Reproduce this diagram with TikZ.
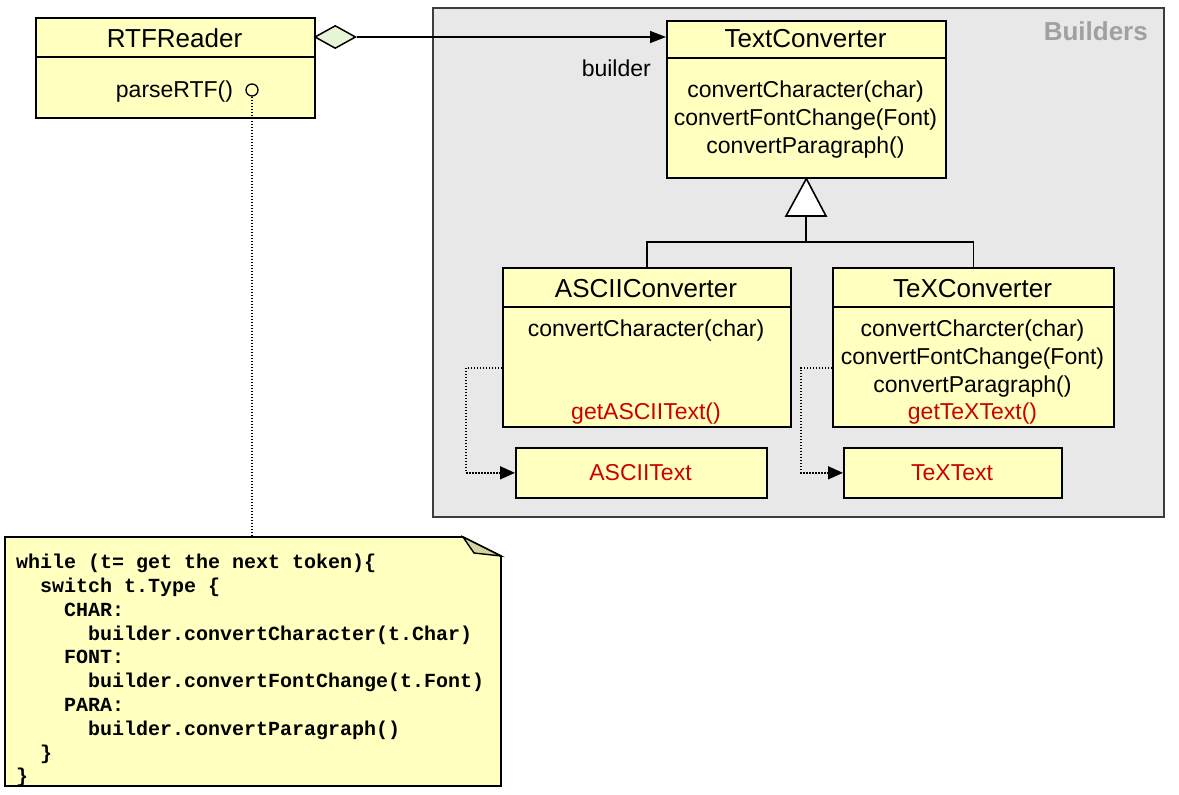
\documentclass[tikz,border=0pt]{standalone}
\usepackage{fontspec}
\setmainfont{Liberation Sans}
\setmonofont{Liberation Mono}
\usetikzlibrary{arrows.meta,shapes.geometric}
\definecolor{classfill}{RGB}{255,255,192}
\definecolor{notefold}{RGB}{212,212,160}
\definecolor{aggfill}{RGB}{230,245,214}
\definecolor{pkgfill}{RGB}{232,232,232}
\definecolor{pkgline}{RGB}{60,60,60}
\definecolor{pkglabel}{RGB}{160,160,160}
\definecolor{opred}{RGB}{204,0,0}
\begin{document}
\begin{tikzpicture}[x=1pt,y=-1pt,
  box/.style={draw=black, fill=classfill, line width=1.7pt, inner sep=0, anchor=north west},
  divider/.style={line width=1.7pt},
  title/.style={font=\fontsize{26}{30}\selectfont, inner sep=0, anchor=base},
  meth/.style={font=\fontsize{23}{28}\selectfont, inner sep=0, anchor=base},
  redop/.style={text=opred},
  solidhead/.style={-{Triangle[length=16pt,width=12pt]}},
  dotlink/.style={line width=1.6pt, dash pattern=on 1.5pt off 1.5pt, -{Triangle[length=15pt,width=13pt]}},
]
\useasboundingbox (0,0) rectangle (1179,795);

% package frame
\node[draw=pkgline, fill=pkgfill, line width=1.6pt, inner sep=0, anchor=north west,
      minimum width=731, minimum height=509] (builders) at (432,7) {};
\node[font=\bfseries\fontsize{26}{30}\selectfont, text=pkglabel, inner sep=0, anchor=base east]
      (builderslabel) at (1148,40) {Builders};

% RTFReader
\node[box, minimum width=279, minimum height=100] (rtf) at (35,17) {};
\draw[divider] (35,57) -- (314,57);
\node[title] (rtfname) at (174.5,47) {RTFReader};
\node[meth] (parse) at (174.5,97) {parseRTF()};
\node[circle, draw, line width=1.3pt, fill=classfill, minimum size=12, inner sep=0] (port) at (252,90) {};

% TextConverter
\node[box, minimum width=279, minimum height=157] (tc) at (666,20) {};
\draw[divider] (666,58) -- (945,58);
\node[title] (tcname) at (805.5,47) {TextConverter};
\node[meth] (tc1) at (805.5,97) {convertCharacter(char)};
\node[meth] (tc2) at (805.5,125) {convertFontChange(Font)};
\node[meth] (tc3) at (805.5,153) {convertParagraph()};

% aggregation RTFReader -> TextConverter
\node[diamond, draw, fill=aggfill, line width=1.5pt, minimum width=41, minimum height=23, inner sep=0, anchor=west] (agg) at (314,37) {};
\draw[solidhead, line width=1.5pt] (agg.east) -- (agg.east -| tc.west);
\node[meth, anchor=base east] (role) at (651,76) {builder};

% ASCIIConverter
\node[box, minimum width=288, minimum height=159] (ac) at (502,267) {};
\draw[divider] (502,307) -- (790,307);
\node[title] (acname) at (646,297) {ASCIIConverter};
\node[meth] (ac1) at (646,336) {convertCharacter(char)};
\node[meth, redop] (ac2) at (646,419) {getASCIIText()};

% TeXConverter
\node[box, minimum width=281, minimum height=159] (xc) at (832,267) {};
\draw[divider] (832,307) -- (1113,307);
\node[title] (xcname) at (972.5,297) {TeXConverter};
\node[meth] (xc1) at (972.5,336) {convertCharcter(char)};
\node[meth] (xc2) at (972.5,364) {convertFontChange(Font)};
\node[meth] (xc3) at (972.5,392) {convertParagraph()};
\node[meth, redop] (xc4) at (972.5,419) {getTeXText()};

% products
\node[box, minimum width=251, minimum height=50] (at) at (515,447) {};
\node[meth, redop] (atname) at (640.5,480) {ASCIIText};
\node[box, minimum width=218, minimum height=50] (xt) at (843,447) {};
\node[meth, redop] (xtname) at (952,480) {TeXText};

% generalization
\coordinate (gbase) at (806,216);
\coordinate (gjoin) at (806,242);
\draw[line width=1.6pt] (ac.north) |- (gjoin) -| (xc.north);
\draw[line width=1.6pt] (gbase) -- (gjoin);
\draw[line width=1.6pt, fill=white] (tc.south) -- ([xshift=20pt]gbase) -- ([xshift=-20pt]gbase) -- cycle;

% creates
\draw[dotlink] ([yshift=-20.5pt]ac.west) -- ++(-36,0) |- (at.west);
\draw[dotlink] ([yshift=-20.5pt]xc.west) -- ++(-31,0) |- (xt.west);

% note with folded corner
\coordinate (notetop) at (252,537);
\draw[line width=1.7pt, fill=classfill] (5,537) -- (463,537) -- (501,556) -- (501,786) -- (5,786) -- cycle;
\draw[line width=1.4pt, fill=notefold] (463,537) -- (474,553) -- (501,556) -- cycle;
\draw[line width=1.6pt, dash pattern=on 1.5pt off 1.5pt] (port.south) -- (notetop);
\node[font=\ttfamily\bfseries\fontsize{20}{23.8}\selectfont, align=left, inner sep=0, anchor=north west] (code) at (16,554)
{while (t= get the next token)\{\\
\hspace*{1.2em}switch t.Type \{\\
\hspace*{2.4em}CHAR:\\
\hspace*{3.6em}builder.convertCharacter(t.Char)\\
\hspace*{2.4em}FONT:\\
\hspace*{3.6em}builder.convertFontChange(t.Font)\\
\hspace*{2.4em}PARA:\\
\hspace*{3.6em}builder.convertParagraph()\\
\hspace*{1.2em}\}\\
\}};
\end{tikzpicture}
\end{document}
